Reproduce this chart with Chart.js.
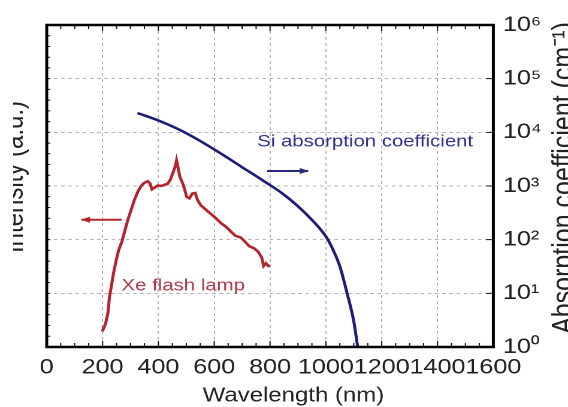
<!DOCTYPE html>
<html>
<head>
<meta charset="utf-8">
<script src="https://cdn.jsdelivr.net/npm/chart.js@4.4.1/dist/chart.umd.min.js"></script>
<style>
  html, body { margin: 0; padding: 0; background: #fff; }
  /* the source figure is cropped on the left and stretched sideways */
  #wrap { position: absolute; left: 0; top: 0; width: 568px; height: 407px; overflow: hidden; clip-path: inset(0 0 0 13px); }
  #chart { position: absolute; left: 0; top: 0; transform-origin: 0 0; transform: scaleX(1.1983); }
</style>
</head>
<body>
<div id="wrap"><canvas id="chart" width="474" height="407"></canvas></div>
<script>
// Xe flash lamp spectrum (left axis, arbitrary units)
const xeWavelength = [199, 211, 219, 225, 231, 239, 249, 258, 269, 279, 290, 302, 314, 326, 338, 350,
  362, 370, 377, 386, 398, 410, 421, 433, 442, 451, 460, 465, 471, 477, 487, 495, 501, 511, 522, 532,
  540, 552, 570, 588, 606, 624, 642, 660, 677, 695, 707, 725, 743, 758, 770, 777, 785, 794, 799];
const xeIntensity = [0.29, 0.44, 0.63, 0.94, 1.12, 1.37, 1.62, 1.81, 1.96, 2.15, 2.36, 2.55, 2.74, 2.89, 3.00, 3.06,
  3.09, 3.05, 2.94, 2.97, 3.01, 3.00, 3.02, 3.04, 3.11, 3.23, 3.36, 3.48, 3.33, 3.17, 3.05, 2.92, 2.80, 2.77, 2.86, 2.87,
  2.74, 2.64, 2.56, 2.48, 2.40, 2.31, 2.24, 2.15, 2.07, 2.04, 1.98, 1.88, 1.84, 1.77, 1.67, 1.51, 1.56, 1.51, 1.53];

// Si absorption coefficient (right axis, cm^-1)
const siWavelength = [325, 400, 475, 550, 625, 700, 775, 850, 925, 1000, 1025, 1050, 1075, 1100, 1114];
const siAbsorption = [22900, 16600, 11200, 6900, 3980, 2240, 1260, 690, 316, 115, 66, 32, 10.5, 3.0, 1.0];

// ticks
const xTicks = [0, 200, 400, 600, 800, 1000, 1200, 1400, 1600];
const absTicks = [1, 10, 100, 1000, 1e4, 1e5, 1e6];

const FONT = "'Liberation Sans', Arial, sans-serif";
const SUP = { "0": "\u2070", "1": "\u00b9", "2": "\u00b2", "3": "\u00b3", "4": "\u2074", "5": "\u2075", "6": "\u2076" };

function toPoints(xs, ys) {
  return xs.map((x, i) => ({ x: x, y: ys[i] }));
}

function arrow(ctx, x1, y1, x2, y2, color) {
  ctx.strokeStyle = color;
  ctx.fillStyle = color;
  ctx.lineWidth = 2;
  ctx.beginPath();
  ctx.moveTo(x1, y1);
  ctx.lineTo(x2, y2);
  ctx.stroke();
  const dir = Math.sign(x2 - x1);
  ctx.beginPath();
  ctx.moveTo(x2 + dir * 1, y2);
  ctx.lineTo(x2 - dir * 7, y2 - 3);
  ctx.lineTo(x2 - dir * 7, y2 + 3);
  ctx.closePath();
  ctx.fill();
}

// frame, inner tick marks, text labels and axis titles
const decor = {
  id: "decor",
  afterDraw(chart) {
    const ctx = chart.ctx;
    const ca = chart.chartArea;
    const sx = chart.scales.x, sy = chart.scales.y, sr = chart.scales.y2;
    ctx.save();

    // inner tick marks
    ctx.strokeStyle = "#111";
    ctx.lineWidth = 1;
    ctx.beginPath();
    for (let v = 50; v < 1600; v += 50) {
      const px = sx.getPixelForValue(v);
      const len = v % 200 === 0 ? 6 : 4;
      ctx.moveTo(px, ca.bottom); ctx.lineTo(px, ca.bottom - len);
      ctx.moveTo(px, ca.top); ctx.lineTo(px, ca.top + len);
    }
    for (let v = 0.2; v < 6; v += 0.2) {
      const py = sy.getPixelForValue(v);
      ctx.moveTo(ca.left, py); ctx.lineTo(ca.left + 3, py);
    }
    absTicks.forEach(v => {
      const py = sr.getPixelForValue(v);
      ctx.moveTo(ca.right, py); ctx.lineTo(ca.right - 6, py);
    });
    ctx.stroke();

    // frame
    ctx.strokeStyle = "#000";
    ctx.lineWidth = 2.5;
    ctx.strokeRect(ca.left, ca.top, ca.right - ca.left, ca.bottom - ca.top);

    // curve labels and arrows
    ctx.font = "17px " + FONT;
    ctx.textAlign = "left";
    ctx.textBaseline = "middle";
    ctx.fillStyle = "#2e3192";
    ctx.fillText("Si absorption coefficient", sx.getPixelForValue(754), sr.getPixelForValue(6600));
    arrow(ctx, sx.getPixelForValue(789), sr.getPixelForValue(1900), sx.getPixelForValue(936), sr.getPixelForValue(1900), "#2a2a7a");

    ctx.fillStyle = "#b03a48";
    ctx.fillText("Xe flash lamp", sx.getPixelForValue(268), sy.getPixelForValue(1.14));
    arrow(ctx, sx.getPixelForValue(268), sy.getPixelForValue(2.37), sx.getPixelForValue(125), sy.getPixelForValue(2.37), "#b3262e");

    // axis titles
    ctx.fillStyle = "#222";
    ctx.font = "20px " + FONT;
    ctx.textAlign = "center";
    ctx.fillText("Wavelength (nm)", (ca.left + ca.right) / 2 + 19.5, 396);

    ctx.textBaseline = "alphabetic";
    ctx.save();
    ctx.translate(19, 177);
    ctx.rotate(-Math.PI / 2);
    ctx.font = "24px " + FONT;
    ctx.fillText("Intensity (a.u.)", 0, 0);
    ctx.restore();

    ctx.save();
    ctx.translate(478, 178);
    ctx.rotate(-Math.PI / 2);
    ctx.font = "25px " + FONT;
    ctx.fillText("Absorption coefficient (cm\u207b\u00b9)", 0, 0);
    ctx.restore();

    ctx.restore();
  }
};

const gridStyle = {
  color: "rgba(90,90,90,0.45)",
  lineWidth: 1,
  drawTicks: false
};

Chart.defaults.font.family = FONT;

const ctx = document.getElementById("chart").getContext("2d");

const spectrumChart = new Chart(ctx, {
  type: "line",
  data: {
    datasets: [{
      label: "Xe flash lamp",
      data: toPoints(xeWavelength, xeIntensity),
      yAxisID: "y",
      borderColor: "#b3232b",
      borderWidth: 2.5,
      pointRadius: 0,
      tension: 0
    }, {
      label: "Si absorption coefficient",
      data: toPoints(siWavelength, siAbsorption),
      yAxisID: "y2",
      borderColor: "#1d1d78",
      borderWidth: 2.5,
      pointRadius: 0,
      cubicInterpolationMode: "monotone"
    }]
  },
  options: {
    responsive: false,
    animation: false,
    devicePixelRatio: 2,
    layout: { padding: { top: 25, left: 0, right: 0, bottom: 0 } },
    plugins: {
      legend: { display: false },
      tooltip: { enabled: false }
    },
    scales: {
      x: {
        type: "linear",
        min: 0,
        max: 1600,
        afterBuildTicks: s => { s.ticks = xTicks.map(v => ({ value: v })); },
        afterFit: s => { s.height = 60; },
        ticks: {
          autoSkip: false,
          maxRotation: 0,
          padding: 8,
          color: "#222",
          font: { size: 21 },
          callback: v => String(v)
        },
        grid: gridStyle,
        border: { display: false, dash: [3, 3] }
      },
      y: {
        type: "linear",
        position: "left",
        min: 0,
        max: 6,
        afterFit: s => { s.width = 39; },
        ticks: { display: false },
        grid: { display: false, drawTicks: false },
        border: { display: false }
      },
      y2: {
        type: "logarithmic",
        position: "right",
        min: 1,
        max: 1e6,
        afterBuildTicks: s => { s.ticks = absTicks.map(v => ({ value: v })); },
        afterFit: s => { s.width = 62.3; },
        ticks: {
          padding: 8,
          color: "#222",
          font: { size: 21 },
          callback: v => "10" + SUP[String(Math.round(Math.log10(v)))]
        },
        grid: gridStyle,
        border: { display: false, dash: [3, 3] }
      }
    }
  },
  plugins: [decor]
});
</script>
</body>
</html>
